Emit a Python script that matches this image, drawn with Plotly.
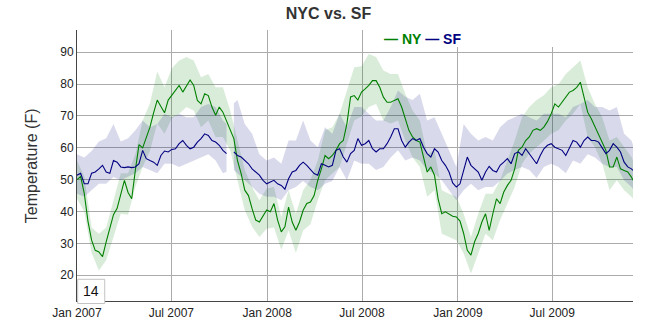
import pandas as pd
import plotly.graph_objects as go

# Weekly 14-day rolling averages of daily temperatures (°F), Jan 2007 - Dec 2009
line_dates = list(pd.date_range("2007-01-01", periods=153, freq="7D")) + [pd.Timestamp("2009-12-03")]

ny = [
    50, 51, 45.6, 37, 31, 27.8, 27.3, 25.8, 30.5, 35, 39, 41, 45.6,
    49.8, 46, 44, 53, 61, 60, 63, 66.5, 71, 75, 73, 71, 75,
    76.5, 78, 79.6, 77.5, 79.6, 81.3, 79.6, 74.9, 73.8, 77, 76.4, 72.8, 70.2,
    72.8, 71.2, 68.6, 66, 62.9, 56, 51.9, 46.7, 45, 40.9, 37.3, 36.7, 38.8,
    40.5, 39.9, 42.5, 37.3, 33.6, 35.2, 41.4, 36.7, 34.1, 36.7, 40.4, 42.5, 43,
    45, 49.8, 53.4, 57.6, 56.6, 57.6, 59.2, 61.3, 62.3, 67.6, 76, 76.4, 75,
    77.5, 78.5, 79.6, 81.1, 81.1, 79, 75.9, 74.3, 74.3, 74.9, 75.4, 72.8, 69.1,
    65.5, 63.4, 62.3, 61.8, 56.6, 52.4, 54, 51.4, 44, 39.3, 39.9, 39.3, 38.5,
    38.3, 37, 33.1, 27.8, 26.3, 30.5, 33.1, 36.7, 39.3, 34.1, 39.3, 44, 42.5,
    46.1, 48.2, 49.8, 53.4, 59.2, 60.2, 62.3, 63.4, 65.5, 66, 65.5, 66.5, 68.3,
    70.7, 73.8, 72.8, 74.3, 75.9, 77.5, 78, 79, 80.6, 75.4, 71.2, 69.1, 66.5,
    63.9, 61.3, 59.2, 54, 54, 57.1, 53.4, 52.9, 52.4, 50.8, 49.8,
]

sf = [
    51.4, 52, 48.7, 48.7, 52, 52.4, 53.4, 54.5, 52.4, 52, 56, 55.5, 54,
    53.8, 54, 53.8, 54, 55, 59.2, 56.6, 56, 55.5, 54.5, 57.6, 59, 58.7,
    59.5, 59.7, 61.3, 62.3, 60.8, 59.7, 60.2, 61.8, 62.9, 64.4, 63.9, 62.3, 61.8,
    60.8, 59.2, 58.2, None, 58.7, 57.6, 57.1, 56, 55, 53.4, 52.4, 51.4, 49.8,
    48.7, 49.3, 49.8, 48.7, 48.2, 47, 50.3, 52.4, 52.9, 54.5, 55.5, 54.5, 53.1,
    51.9, 51.4, 55, 54.5, 54, 54.5, 59.2, 59.7, 57.1, 55.5, 58.2, 59.2, 62.9,
    60.8, 61.3, 62.3, 59.7, 58.7, 59.7, 59.7, 61.3, 63.4, 66, 66, 62.3, 60.2,
    61.8, 62.9, 62.3, 62.9, 60.2, 58.2, 57.1, 59.7, 58.7, 56, 54.5, 52.4, 49,
    47.7, 48.7, 52.9, 57.1, 54.5, 53.4, 52.4, 49.8, 52.4, 54.2, 52.9, 52.4, 54.5,
    55.5, 56.6, 55, 58.2, 58.7, 57.6, 59.7, 58.2, 56.6, 55, 57.6, 59.7, 60.8,
    61.3, 60.2, 59.7, 59.2, 57.6, 60.2, 62.3, 61.8, 60.2, 62.3, 63.4, 62.3, 62.3,
    61.8, 60.2, 58.2, 59.2, 61.3, 60.2, 58.7, 55.5, 54, 53.4, 52.9,
]

# Rolling low / high envelopes, sampled every two weeks
band_dates = list(pd.date_range("2007-01-01", periods=77, freq="14D")) + [pd.Timestamp("2009-12-03")]

ny_low = [
    44, 40, 27, 21.5, 24.7, 32, 39.3, 39, 47.7, 54, 59, 67.6, 64.4, 69.3,
    70.7, 72.8, 71.7, 66.5, 68.6, 63.4, 63.4, 59.2, 49.8, 40.4, 35.2, 32, 34.6,
    35, 28, 34, 27, 34, 36, 43.5, 49.8, 51.9, 54, 61.3, 68.6, 69.8,
    72.8, 73.8, 68.6, 67.6, 68.6, 62.3, 57, 54, 44.6, 46.7, 33, 32, 31,
    26.8, 20.5, 26.8, 33, 31, 37.3, 42.5, 47.7, 55, 58.2, 60.2, 62.2,
    64.4, 65.5, 68.6, 70.7, 73.8, 63.4, 60.2, 55, 46.7, 49.8, 46.7, 44.6, 44,
]
ny_high = [
    56, 51, 35, 33, 35, 43.5, 52, 52, 58, 68.6, 74, 84, 79, 85,
    87.4, 88.5, 87.4, 82.2, 83.2, 79, 79, 71.7, 62.3, 53, 47.7, 43.5, 47.2,
    47.7, 38.3, 46.7, 39.3, 46.7, 50, 56, 65.5, 66.5, 70.7, 78, 85.3, 85.6,
    89.5, 88.5, 84.3, 83.2, 83.2, 77, 71.7, 68.6, 58, 59.2, 46.7, 45.6, 44.6,
    39.3, 32, 39.3, 45.6, 45.6, 49.8, 56, 62.3, 69.6, 72.8, 75, 76.5,
    79, 80, 83.2, 85.3, 87.4, 79, 73.8, 69.6, 62.3, 63.4, 60.2, 57.1, 56,
]

# SF envelope uses the same dates, with the missing week of Oct 2007 bracketed
# by its neighbouring weekly readings.
sf_band_dates = (band_dates[:21]
                 + [line_dates[41], line_dates[42], line_dates[43]]
                 + band_dates[22:])
sf_low = [
    45.6, 44.6, 46.7, 48.7, 48.7, 50.8, 49.8, 50.8, 52, 54, 53, 52, 55, 55,
    54, 55, 56, 57, 58, 56, 52, 52.5, None, 53, 52, 49.8, 47.7, 45.6, 44.6,
    44.6, 43.5, 46.7, 47.7, 49.6, 47.7, 46.7, 48.7, 49.6, 54, 49.8, 56, 55,
    55, 53, 54, 57, 59.2, 56, 57, 56, 53, 51.9, 49.8, 46.7, 43.5,
    46.7, 48.7, 46.7, 47.7, 47.7, 49.6, 51.9, 53, 54, 53, 50.5, 54,
    55, 54, 52, 56, 55, 58, 57, 55, 54, 54, 49.8, 47.7, 47,
]
sf_high = [
    58, 57, 59, 62, 63, 67.5, 62, 63, 65.5, 68.6, 66.5, 67.5, 70.7, 69.6,
    70.7, 69.6, 69.6, 72.8, 73.8, 72.8, 68.6, 67.5, None, 74, 75, 67.5, 64.4, 58, 56,
    57, 55, 62.3, 62.3, 68.6, 62.3, 60.2, 66.5, 64.4, 70.7, 66.5, 72.8, 72.8,
    70.7, 68.6, 68.6, 72.8, 78, 76, 75, 77, 68.6, 69.6, 64.4, 59.2, 54,
    67.5, 64.4, 62.3, 63.4, 62.3, 66.5, 68.6, 69.6, 70.7, 69.6, 68.6, 70.7,
    70.7, 70.7, 69.6, 72.8, 73.8, 75, 72.8, 72.8, 71.7, 72.8, 64.4, 62.3, 61,
]

x_tick_dates = ["2007-01-01", "2007-07-01", "2008-01-01", "2008-07-01",
                "2009-01-01", "2009-07-01"]
x_tick_text = ["Jan 2007", "Jul 2007", "Jan 2008", "Jul 2008", "Jan 2009", "Jul 2009"]
y_ticks = [20, 30, 40, 50, 60, 70, 80, 90]

NY_COLOR = "#008000"
SF_COLOR = "#000080"
FONT = "Liberation Sans, Arial, sans-serif"


def band_traces(dates, low, high, fillcolor):
    """Filled envelope polygons, split wherever a value is missing."""
    runs, cur = [], []
    for i, (lo, hi) in enumerate(zip(low, high)):
        if lo is None or hi is None:
            if cur:
                runs.append(cur)
            cur = []
        else:
            cur.append(i)
    if cur:
        runs.append(cur)
    out = []
    for run in runs:
        xs = [dates[i] for i in run] + [dates[i] for i in reversed(run)]
        ys = [high[i] for i in run] + [low[i] for i in reversed(run)]
        out.append(go.Scatter(x=xs, y=ys, fill="toself", fillcolor=fillcolor,
                              line=dict(width=0), mode="lines",
                              hoverinfo="skip", showlegend=False))
    return out


fig = go.Figure()
for tr in band_traces(band_dates, ny_low, ny_high, "rgba(0,128,0,0.15)"):
    fig.add_trace(tr)
for tr in band_traces(sf_band_dates, sf_low, sf_high, "rgba(0,0,128,0.15)"):
    fig.add_trace(tr)

fig.add_trace(go.Scatter(x=line_dates, y=ny, mode="lines", name="NY",
                         line=dict(color=NY_COLOR, width=1.1), showlegend=False))
fig.add_trace(go.Scatter(x=line_dates, y=sf, mode="lines", name="SF",
                         line=dict(color=SF_COLOR, width=1.1), connectgaps=False,
                         showlegend=False))

fig.update_layout(
    width=657, height=327,
    margin=dict(l=77, r=24, t=30, b=26),
    paper_bgcolor="white", plot_bgcolor="white",
    font=dict(family=FONT, size=12, color="#222"),
    title=dict(text="<b>NYC vs. SF</b>", x=0.5, xref="container", xanchor="center",
               y=1 - 13.5 / 327, yref="container", yanchor="middle",
               font=dict(family=FONT, size=16, color="#333")),
    xaxis=dict(range=["2007-01-01", "2009-12-03"], tickvals=x_tick_dates,
               ticktext=x_tick_text, showgrid=True, gridcolor="#ababab", gridwidth=1,
               showline=True, linecolor="#444", linewidth=1, zeroline=False,
               ticks="", ticklabelstandoff=1, automargin=False,
               tickfont=dict(size=12, color="#222")),
    yaxis=dict(range=[11.9, 97], tickvals=y_ticks, showgrid=True,
               gridcolor="#ababab", gridwidth=1, showline=True, linecolor="#444",
               linewidth=1, zeroline=False, ticks="", automargin=False,
               tickfont=dict(size=12, color="#222")),
    showlegend=False,
)

# Y axis title
fig.add_annotation(text="Temperature (F)", xref="paper", yref="paper",
                   x=(32 - 77.3) / 555.4, y=0.5, xanchor="center", yanchor="middle",
                   textangle=-90, showarrow=False,
                   font=dict(family=FONT, size=16, color="#333"))

# Legend strip with white background across the top of the plot
fig.add_shape(type="rect", xref="paper", yref="paper", x0=0.53, x1=1.0,
              y0=(301 - 47) / 271, y1=1.0, line=dict(width=0),
              fillcolor="white", layer="above")
fig.add_annotation(
    text=(f"<span style='color:{NY_COLOR}'><b>— NY</b></span> "
          f"<span style='color:{SF_COLOR}'><b>— SF</b></span>"),
    xref="paper", yref="paper", x=(382 - 77.3) / 555.4, y=(301 - 39.3) / 271,
    xanchor="left", yanchor="middle", showarrow=False,
    font=dict(family=FONT, size=14))

# Roll-period box
fig.add_shape(type="rect", xref="paper", yref="paper",
              x0=(78 - 77.3) / 555.4, x1=(105 - 77.3) / 555.4,
              y0=(301 - 303.5) / 271, y1=(301 - 279.3) / 271,
              line=dict(color="#c4c4c4", width=1), fillcolor="white", layer="above")
fig.add_annotation(text="14", xref="paper", yref="paper",
                   x=(81.5 - 77.3) / 555.4, y=(301 - 290.5) / 271,
                   xanchor="left", yanchor="middle", showarrow=False,
                   font=dict(family=FONT, size=14, color="#111"))

fig.write_html("out.html")
